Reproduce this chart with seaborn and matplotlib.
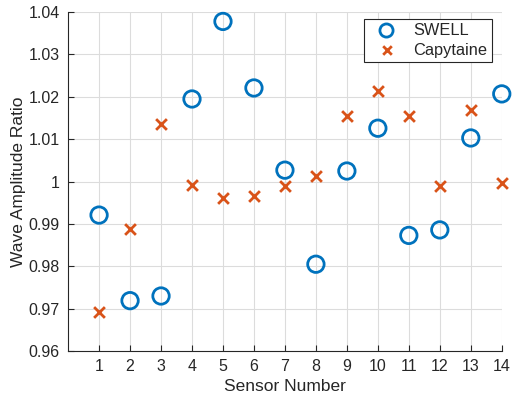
import matplotlib.pyplot as plt
import seaborn as sns
import pandas as pd
from matplotlib.ticker import FuncFormatter

sensors = list(range(1, 15))
swell = [0.9921, 0.9719, 0.9730, 1.0195, 1.0378, 1.0221, 1.0027, 0.9805,
         1.0025, 1.0126, 0.9873, 0.9886, 1.0103, 1.0207]
capytaine = [0.9693, 0.9887, 1.0137, 0.9993, 0.9961, 0.9966, 0.9989, 1.0013,
             1.0154, 1.0213, 1.0155, 0.9989, 1.0169, 0.9997]

df = pd.DataFrame({
    'Sensor': sensors * 2,
    'Ratio': swell + capytaine,
    'Source': ['SWELL'] * 14 + ['Capytaine'] * 14,
})

sns.set_style('whitegrid')
plt.rcParams['font.family'] = ['Liberation Sans', 'DejaVu Sans']

fig = plt.figure(figsize=(5.12, 4.04), dpi=100)
ax = fig.add_axes([0.133, 0.131, 0.847, 0.839])

# circles first, then crosses
sw = df[df['Source'] == 'SWELL']
cp = df[df['Source'] == 'Capytaine']
sns.scatterplot(data=sw, x='Sensor', y='Ratio', ax=ax, marker='o', s=140,
                facecolors='none', edgecolor='#0072BD', linewidth=2,
                label='SWELL', clip_on=False, zorder=3)
sns.scatterplot(data=cp, x='Sensor', y='Ratio', ax=ax, marker='x', s=60,
                color='#D95319', linewidth=2, label='Capytaine',
                clip_on=False, zorder=3)

ax.set_xlim(0, 14)
ax.set_ylim(0.96, 1.04)
ax.set_xticks(sensors)
ax.set_yticks([0.96, 0.97, 0.98, 0.99, 1.0, 1.01, 1.02, 1.03, 1.04])
ax.yaxis.set_major_formatter(FuncFormatter(lambda v, p: '%g' % round(v, 4)))

ax.grid(True, color='#dcdcdc', linewidth=0.8)
for s in ['top', 'right']:
    ax.spines[s].set_visible(False)
for s in ['left', 'bottom']:
    ax.spines[s].set_color('#262626')
    ax.spines[s].set_linewidth(0.8)
ax.tick_params(direction='in', length=4, labelsize=11.5, colors='#262626',
               left=True, bottom=True, width=0.8, pad=6)

ax.set_xlabel('Sensor Number', fontsize=12.5, color='#262626', labelpad=3)
ax.set_ylabel('Wave Amplitude Ratio', fontsize=12.5, color='#262626', labelpad=2)

leg = ax.legend(loc='upper right', bbox_to_anchor=(0.988, 0.995), fontsize=11.8,
                frameon=True, fancybox=False, borderpad=0.25, handletextpad=0.5,
                handlelength=2.3, labelspacing=0.3, markerscale=0.8,
                borderaxespad=0.3)
leg.get_frame().set_edgecolor('#262626')
leg.get_frame().set_linewidth(0.8)
leg.get_frame().set_alpha(1)

fig.savefig('out.png', dpi=100)
